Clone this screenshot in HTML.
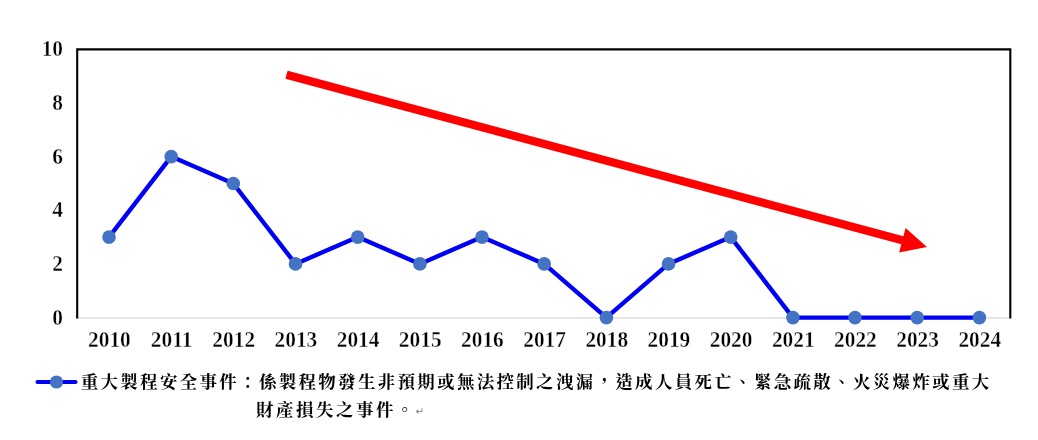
<!DOCTYPE html>
<html lang="zh-Hant"><head><meta charset="utf-8"><title>重大製程安全事件</title>
<style>
html,body{margin:0;padding:0;background:#fff;}
body{width:1038px;height:440px;overflow:hidden;}
svg{display:block;will-change:transform;}
.num{font-family:"Liberation Serif","Noto Serif CJK SC",serif;font-weight:bold;font-size:23px;fill:#000;stroke:#fff;stroke-width:0.4px;}
.leg{font-family:"Liberation Serif","Noto Serif CJK SC",serif;font-weight:bold;font-size:17.5px;fill:#000;}
</style></head><body>
<svg width="1038" height="440" viewBox="0 0 1038 440">
<rect width="1038" height="440" fill="#fff"/>
<line x1="77.2" y1="317.9" x2="1010.3" y2="317.9" stroke="#d9d9d9" stroke-width="1.3"/>
<polyline points="77.2,318.5 77.2,49.4 1010.3,49.4 1010.3,318.5" fill="none" stroke="#000" stroke-width="2.1" stroke-linejoin="miter"/>
<text class="num" text-anchor="end" transform="translate(63,324.7) scale(0.93,1)">0</text>
<text class="num" text-anchor="end" transform="translate(63,271.0) scale(0.93,1)">2</text>
<text class="num" text-anchor="end" transform="translate(63,217.4) scale(0.93,1)">4</text>
<text class="num" text-anchor="end" transform="translate(63,163.7) scale(0.93,1)">6</text>
<text class="num" text-anchor="end" transform="translate(63,110.1) scale(0.93,1)">8</text>
<text class="num" text-anchor="end" transform="translate(63,56.4) scale(0.93,1)">10</text>
<text class="num" text-anchor="middle" transform="translate(109.4,346.5) scale(0.93,1)">2010</text>
<text class="num" text-anchor="middle" transform="translate(171.6,346.5) scale(0.93,1)">2011</text>
<text class="num" text-anchor="middle" transform="translate(233.7,346.5) scale(0.93,1)">2012</text>
<text class="num" text-anchor="middle" transform="translate(295.9,346.5) scale(0.93,1)">2013</text>
<text class="num" text-anchor="middle" transform="translate(358.1,346.5) scale(0.93,1)">2014</text>
<text class="num" text-anchor="middle" transform="translate(420.2,346.5) scale(0.93,1)">2015</text>
<text class="num" text-anchor="middle" transform="translate(482.4,346.5) scale(0.93,1)">2016</text>
<text class="num" text-anchor="middle" transform="translate(544.6,346.5) scale(0.93,1)">2017</text>
<text class="num" text-anchor="middle" transform="translate(606.8,346.5) scale(0.93,1)">2018</text>
<text class="num" text-anchor="middle" transform="translate(668.9,346.5) scale(0.93,1)">2019</text>
<text class="num" text-anchor="middle" transform="translate(731.1,346.5) scale(0.93,1)">2020</text>
<text class="num" text-anchor="middle" transform="translate(793.3,346.5) scale(0.93,1)">2021</text>
<text class="num" text-anchor="middle" transform="translate(855.4,346.5) scale(0.93,1)">2022</text>
<text class="num" text-anchor="middle" transform="translate(917.6,346.5) scale(0.93,1)">2023</text>
<text class="num" text-anchor="middle" transform="translate(979.8,346.5) scale(0.93,1)">2024</text>
<polygon points="287.6,70.8 903.4,236.3 905.6,228.1 927.0,246.9 899.1,252.5 901.3,244.2 285.4,78.8" fill="#ff0000"/>
<polyline fill="none" stroke="#0000f5" stroke-width="4.4" stroke-linejoin="round" stroke-linecap="round" points="109.0,237.1 171.2,156.6 233.3,183.5 295.5,263.9 357.7,237.1 419.9,263.9 482.0,237.1 544.2,263.9 606.4,317.6 668.5,263.9 730.7,237.1 792.9,317.6 855.0,317.6 917.2,317.6 979.4,317.6"/>
<circle cx="109.0" cy="237.1" r="6.8" fill="#4472c4"/>
<circle cx="171.2" cy="156.6" r="6.8" fill="#4472c4"/>
<circle cx="233.3" cy="183.5" r="6.8" fill="#4472c4"/>
<circle cx="295.5" cy="263.9" r="6.8" fill="#4472c4"/>
<circle cx="357.7" cy="237.1" r="6.8" fill="#4472c4"/>
<circle cx="419.9" cy="263.9" r="6.8" fill="#4472c4"/>
<circle cx="482.0" cy="237.1" r="6.8" fill="#4472c4"/>
<circle cx="544.2" cy="263.9" r="6.8" fill="#4472c4"/>
<circle cx="606.4" cy="317.6" r="6.8" fill="#4472c4"/>
<circle cx="668.5" cy="263.9" r="6.8" fill="#4472c4"/>
<circle cx="730.7" cy="237.1" r="6.8" fill="#4472c4"/>
<circle cx="792.9" cy="317.6" r="6.8" fill="#4472c4"/>
<circle cx="855.0" cy="317.6" r="6.8" fill="#4472c4"/>
<circle cx="917.2" cy="317.6" r="6.8" fill="#4472c4"/>
<circle cx="979.4" cy="317.6" r="6.8" fill="#4472c4"/>
<line x1="37.5" y1="382" x2="75.5" y2="382" stroke="#0000f5" stroke-width="4.1" stroke-linecap="round"/>
<circle cx="56.5" cy="382" r="6.6" fill="#4472c4"/>
<text class="leg" x="80.7" y="388.4" textLength="908.5" lengthAdjust="spacing">重大製程安全事件：係製程物發生非預期或無法控制之洩漏，造成人員死亡、緊急疏散、火災爆炸或重大</text>
<text class="leg" x="256" y="416.1" textLength="157.6" lengthAdjust="spacing">財產損失之事件。</text>
<text x="415.6" y="414.6" font-family="'DejaVu Sans',sans-serif" font-size="10.5" fill="#808080">↵</text>
</svg></body></html>
